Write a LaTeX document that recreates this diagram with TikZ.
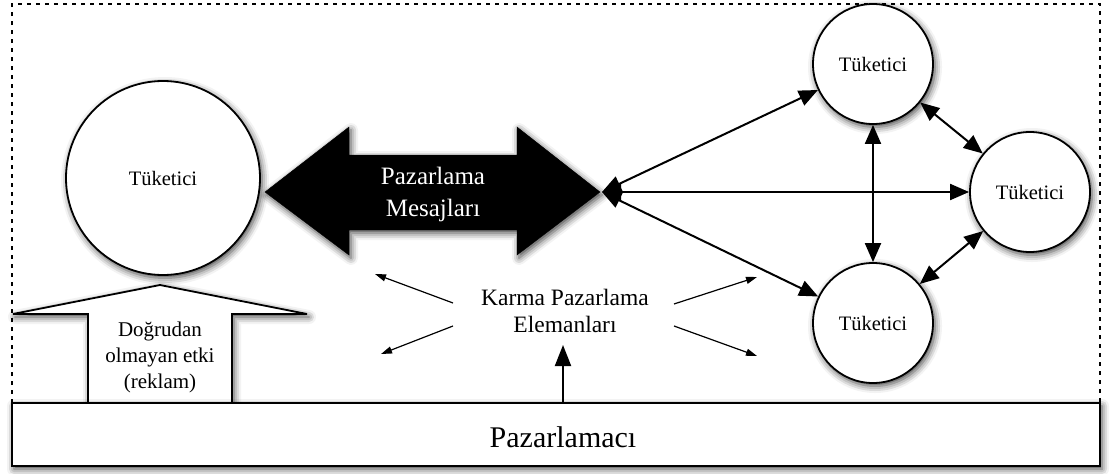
\documentclass[tikz,border=0pt]{standalone}
\usepackage{fontspec}
\setmainfont{Liberation Serif}
\usetikzlibrary{arrows.meta,shadows.blur}
\begin{document}
\begin{tikzpicture}[x=1pt,y=-1pt,
  soft/.style={blur shadow={shadow xshift=2pt,shadow yshift=-3pt,shadow blur radius=7pt,shadow opacity=75}},
  person/.style={circle,draw,line width=1.8pt,fill=white,minimum size=#1,inner sep=0pt,
    font=\fontsize{20.5}{24}\selectfont,soft},
  head/.style={Triangle[length=19pt,width=16pt,fill=black,line width=0.5pt]},
  link/.style={line width=2pt,{Triangle[length=19pt,width=16pt,fill=black]}-{Triangle[length=19pt,width=16pt,fill=black]}},
  mix/.style={line width=1.2pt,-{Triangle[length=11pt,width=7pt,fill=black]}},
  frame/.style={dash pattern=on 4pt off 5pt,line width=1.8pt},
]
\useasboundingbox (0,0) rectangle (1117,474);

% dotted frame around the consumer field
\draw[frame] (12,403) -- (12,4) -- (1100,4) -- (1100,403);

% indirect influence: the open upward arrow
\draw[line width=1.8pt,fill=white,soft]
  (88,403) -- (88,314) -- (13,314) -- (160,285) -- (307,314) -- (232,314) -- (232,403);
\node[align=center,font=\fontsize{21}{26}\selectfont] (adv) at (160,357)
  {Doğrudan\\olmayan etki\\(reklam)};

% marketer bar
\node[draw,line width=1.8pt,fill=white,minimum width=1088pt,minimum height=63pt,inner sep=0pt,soft]
  (box) at (556,434.5) {};
\node[font=\fontsize{30}{36}\selectfont] (mktr) at (563,437) {Pazarlamacı};

% consumers
\node[person=194pt] (c0) at (163,178) {Tüketici};
\node[person=120pt] (c1) at (873,64) {Tüketici};
\node[person=120pt] (c2) at (1030,192) {Tüketici};
\node[person=120pt] (c3) at (873,323) {Tüketici};

% marketing messages: the solid double arrow
\draw[fill=black,soft]
  (265,192) -- (349,127) -- (349,155) -- (517,155) -- (517,127) -- (600,192)
  -- (517,255) -- (517,230) -- (349,230) -- (349,255) -- cycle;
\node[text=white,align=center,font=\fontsize{25}{32}\selectfont] (msg) at (433,194)
  {Pazarlama\\Mesajları};

% word of mouth between consumers
\coordinate (hub) at (602,192);
\draw[link] (hub) -- (c1);
\draw[link] (hub) -- (c2);
\draw[link] (hub) -- (c3);
\draw[link] (c1) -- (c3);
\draw[link] (c1) -- (c2);
\draw[link] (c3) -- (c2);

% marketing mix elements
\node[align=center,font=\fontsize{23.5}{27}\selectfont] (kmp) at (565,311)
  {Karma Pazarlama\\Elemanları};
\coordinate (ul) at (375,274);
\coordinate (ll) at (381,354);
\coordinate (ur) at (757,277);
\coordinate (lr) at (757,356);
\draw[mix] (453,303) -- (ul);
\draw[mix] (453,326) -- (ll);
\draw[mix] (674,304) -- (ur);
\draw[mix] (674,326) -- (lr);
\draw[line width=2pt,-{Triangle[length=21pt,width=16pt,fill=black]}]
  (box.north -| 563,0) -- (563,345);
\end{tikzpicture}
\end{document}
